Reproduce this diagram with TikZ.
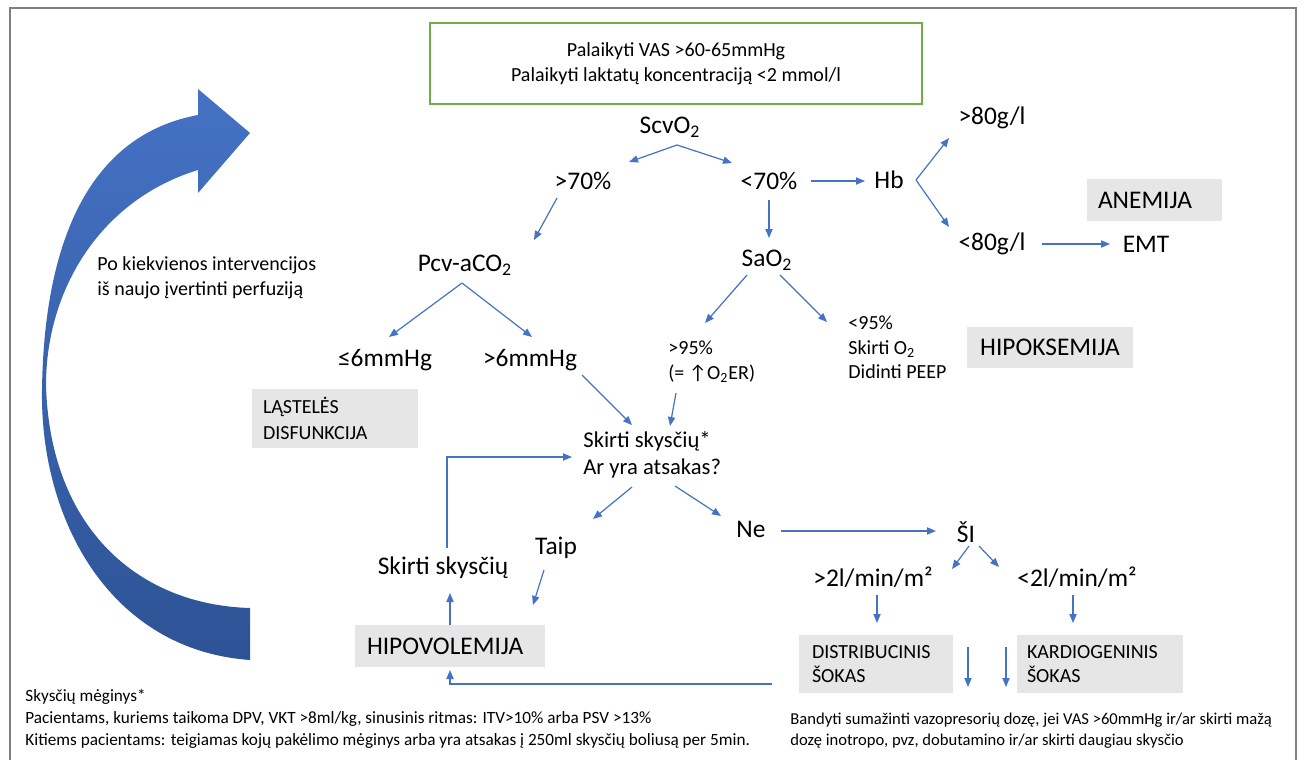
\documentclass[tikz,border=0pt]{standalone}
\usepackage{fontspec}
\setmainfont{Carlito}
\usepackage{xcolor}
\usetikzlibrary{arrows.meta}
\definecolor{arrblue}{HTML}{4472C4}
\definecolor{shadeblue}{HTML}{2E5395}
\definecolor{boxgray}{HTML}{E7E6E6}
\definecolor{boxgreen}{HTML}{70AD47}
\definecolor{framegray}{HTML}{808080}

\begin{document}
\begin{tikzpicture}[x=0.5pt,y=-0.5pt,
	arr/.style={-{Triangle[length=4.5pt,width=3.6pt]},arrblue,line width=0.6pt},
	big/.style={font=\fontsize{12.7}{15}\selectfont,inner sep=0pt},
	small/.style={font=\fontsize{10}{12.5}\selectfont,inner sep=0pt,align=left},
	graybox/.style={fill=boxgray,inner ysep=0pt,align=left}]
	\useasboundingbox (0,0) rectangle (1304,759);
	\draw[framegray,line width=1pt] (10,780) -- (10,8) -- (1296,8) -- (1296,780);
	% curved arrow on the left
	\shade[top color=arrblue,bottom color=shadeblue] (250,660) .. controls (110,650) and (40,520) .. (42,390)
		.. controls (44,240) and (90,135) .. (198,115) -- (198,89) -- (250,133) -- (198,193) -- (198,170)
		.. controls (100,200) and (46,290) .. (46,385) .. controls (50,530) and (140,605) .. (250,608) -- cycle;
	\node[small,anchor=west] (pokiekv) at (97,278) {Po kiekvienos intervencijos\\iš naujo įvertinti perfuziją};
	% top
	\node[draw=boxgreen,line width=0.6pt,small,align=center,minimum width=246pt,minimum height=40.5pt] (goal) at (676,63.5)
		{Palaikyti VAS >60-65mmHg\\Palaikyti laktatų koncentraciją <2 mmol/l};
	\node[big] (scv) at (670,127) {ScvO\textsubscript{2}};
	\node[big] (gt70) at (583,181) {>70\%};
	\node[big] (lt70) at (769,181) {<70\%};
	\node[big] (hb) at (889,180) {Hb};
	\node[big] (gt80) at (992,118) {>80g/l};
	\node[big] (lt80) at (992,244) {<80g/l};
	\node[big] (emt) at (1146,244) {EMT};
	\node[graybox,big,inner xsep=5.5pt,text width=56.5pt,minimum height=21pt] (anemija) at (1154.5,200) {ANEMIJA};
	\draw[arr] ([shift={(7,18)}]scv.center) -- ([shift={(46,-19)}]gt70.center);
	\draw[arr] ([shift={(7,18)}]scv.center) -- ([shift={(-37,-18)}]lt70.center);
	\draw[arr] ([shift={(42,0)}]lt70.center) -- ([shift={(-24,1)}]hb.center);
	\draw[arr] ([shift={(27,0)}]hb.center) -- ([shift={(-43,20)}]gt80.center);
	\draw[arr] ([shift={(27,0)}]hb.center) -- ([shift={(-43,-17)}]lt80.center);
	\draw[arr] ([shift={(50,0)}]lt80.center) -- ([shift={(-36,0)}]emt.center);
	% middle
	\node[big] (pcv) at (465,265) {Pcv-aCO\textsubscript{2}};
	\node[big] (sao2) at (767,260) {SaO\textsubscript{2}};
	\node[big] (le6) at (385,360) {≤6mmHg};
	\node[big] (gt6) at (530,360) {>6mmHg};
	\node[graybox,small,inner xsep=5.5pt,text width=72pt,minimum height=29.5pt,font=\fontsize{10}{13}\selectfont] (lastel) at (335,418.5) {LĄSTELĖS\\DISFUNKCIJA};
	\node[small,anchor=west] (gt95) at (668,362) {>95\%\\(= ↑O\textsubscript{2}ER)};
	\node[small,anchor=west,font=\fontsize{10}{12.25}\selectfont] (lt95) at (848,347.5) {<95\%\\Skirti O\textsubscript{2}\\Didinti PEEP};
	\node[graybox,big,inner xsep=0pt,text width=83pt,align=center,minimum height=20.5pt] (hipoks) at (1050,347.5) {HIPOKSEMIJA};
	\node[small,anchor=west,font=\fontsize{11.3}{13.5}\selectfont] (skirti) at (583,455) {Skirti skysčių*\\Ar yra atsakas?};
	\draw[arr] ([shift={(-26,17)}]gt70.center) -- ([shift={(69,-25)}]pcv.center);
	\draw[arr] ([shift={(0,19)}]lt70.center) -- ([shift={(2,-22)}]sao2.center);
	\draw[arr] ([shift={(-3,18)}]pcv.center) -- ([shift={(4,-23)}]le6.center);
	\draw[arr] ([shift={(-3,18)}]pcv.center) -- ([shift={(2,-23)}]gt6.center);
	\draw[arr] ([shift={(52,15)}]gt6.center) -- ([shift={(49,-30)}]skirti.west);
	\draw[arr] ([shift={(-20,15)}]sao2.center) -- ([shift={(37,-39)}]gt95.west);
	\draw[arr] ([shift={(13,15)}]sao2.center) -- ([shift={(-21,-25.5)}]lt95.west);
	\draw[arr] ([shift={(8,31)}]gt95.west) -- ([shift={(87,-29)}]skirti.west);
	% bottom
	\node[big] (taip) at (556,548) {Taip};
	\node[big] (ne) at (751,529) {Ne};
	\node[big] (si) at (966,532) {ŠI};
	\node[big] (gt2) at (873,577) {>2l/min/m²};
	\node[big] (lt2) at (1077,577) {<2l/min/m²};
	\node[graybox,small,inner xsep=6.5pt,text width=64pt,minimum height=29pt,font=\fontsize{10}{12}\selectfont] (distrib) at (876,664) {DISTRIBUCINIS\\ŠOKAS};
	\node[graybox,small,inner xsep=5pt,text width=73pt,minimum height=29pt,font=\fontsize{10}{12}\selectfont] (kardio) at (1100,664) {KARDIOGENINIS\\ŠOKAS};
	\node[big] (skysc) at (443,568) {Skirti skysčių};
	\node[graybox,big,inner xsep=6pt,text width=83pt,minimum height=21pt] (hipov) at (450,646) {HIPOVOLEMIJA};
	\draw[arr] ([shift={(49,32)}]skirti.west) -- ([shift={(37,-29)}]taip.center);
	\draw[arr] ([shift={(92,31)}]skirti.west) -- ([shift={(-30,-13)}]ne.center);
	\draw[arr] ([shift={(30,2)}]ne.center) -- ([shift={(-30,-1)}]si.center);
	\draw[arr] ([shift={(3,14)}]si.center) -- ([shift={(79,-8)}]gt2.center);
	\draw[arr] ([shift={(13,14)}]si.center) -- ([shift={(-78,-10)}]lt2.center);
	\draw[arr] ([shift={(4,18)}]gt2.center) -- ([shift={(1,-41)}]distrib.center);
	\draw[arr] ([shift={(-4,18)}]lt2.center) -- ([shift={(-27,-41)}]kardio.center);
	\draw[arr] ([shift={(92,-17)}]distrib.center) -- ([shift={(92,23)}]distrib.center);
	\draw[arr] ([shift={(-94,-17)}]kardio.center) -- ([shift={(-94,23)}]kardio.center);
	\draw[arr] ([shift={(-12,22)}]taip.center) -- ([shift={(83,-41)}]hipov.center);
	\draw[arr] (hipov.north) -- ([shift={(7,25)}]skysc.center);
	\draw[arr] ([shift={(4,-20)}]skysc.center) |- ([shift={(-11,2)}]skirti.west);
	\draw[arr] ([shift={(-104,20)}]distrib.center) -| ([shift={(0,24)}]hipov.center);
	% notes
	\node[small,anchor=west,font=\fontsize{8.6}{11}\selectfont] (footl) at (25,719)
		{Skysčių mėginys*\\Pacientams, kuriems taikoma  DPV, VKT >8ml/kg, sinusinis ritmas: ITV>10\% arba PSV >13\%\\Kitiems pacientams: teigiamas kojų pakėlimo mėginys arba yra atsakas į 250ml skysčių boliusą per 5min.};
	\node[small,anchor=west,font=\fontsize{8.3}{10.5}\selectfont] (footr) at (790,730.5)
		{Bandyti sumažinti vazopresorių dozę, jei VAS >60mmHg ir/ar skirti mažą\\dozę inotropo, pvz, dobutamino ir/ar skirti daugiau skysčio};
\end{tikzpicture}
\end{document}
